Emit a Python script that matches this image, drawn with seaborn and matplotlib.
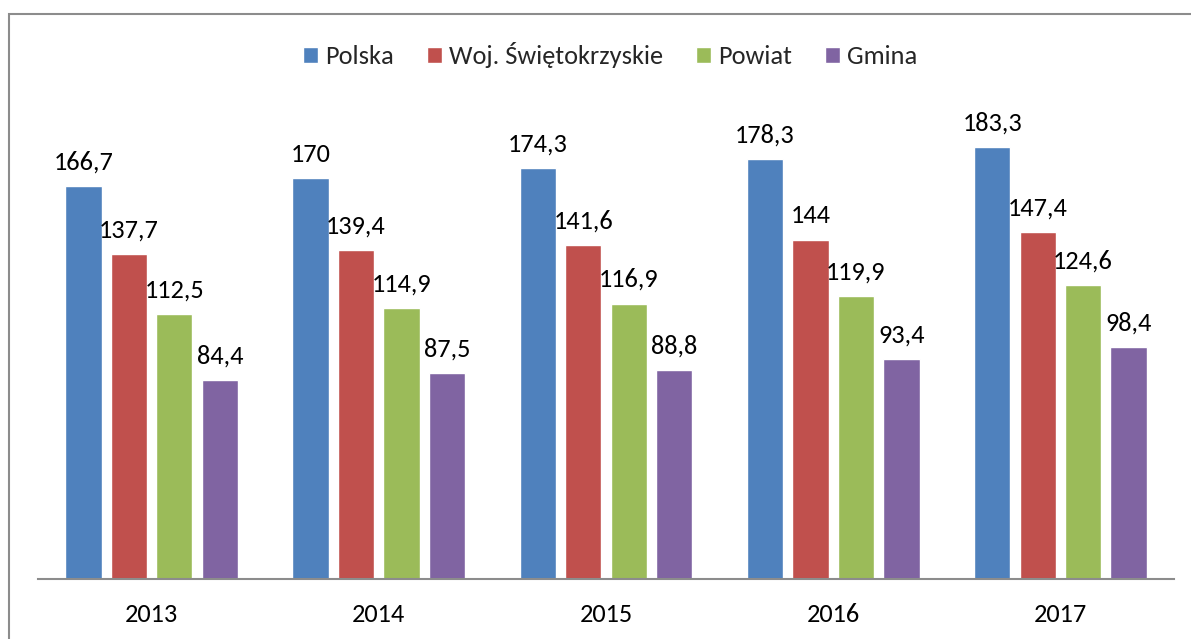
import matplotlib
matplotlib.use("Agg")
import matplotlib.pyplot as plt
import seaborn as sns
import pandas as pd
from matplotlib.patches import Rectangle

years = ["2013", "2014", "2015", "2016", "2017"]
series_names = ["Polska", "Woj. Świętokrzyskie", "Powiat", "Gmina"]
polska = [166.7, 170, 174.3, 178.3, 183.3]
swietokrzyskie = [137.7, 139.4, 141.6, 144, 147.4]
powiat = [112.5, 114.9, 116.9, 119.9, 124.6]
gmina = [84.4, 87.5, 88.8, 93.4, 98.4]
colors = ["#4F81BD", "#C0504D", "#9BBB59", "#8064A2"]

values = [polska, swietokrzyskie, powiat, gmina]
rows = []
for name, vals in zip(series_names, values):
    for y, v in zip(years, vals):
        rows.append({"Rok": y, "Seria": name, "Wartość": v})
df = pd.DataFrame(rows)

sns.set_theme(style="white")
plt.rcParams["font.family"] = ["Carlito", "Liberation Sans", "DejaVu Sans"]

FS = 19

fig = plt.figure(figsize=(11.91, 6.39), dpi=100)
ax = fig.add_axes([38 / 1191, 1 - 579 / 639, (1174 - 38) / 1191, 0.735])

sns.barplot(data=df, x="Rok", y="Wartość", hue="Seria", order=years,
            hue_order=series_names, palette=colors, width=0.8, gap=0.2,
            saturation=1, ax=ax, legend=True)

def fmt(v):
    s = f"{v:.1f}".replace(".", ",")
    if s.endswith(",0"):
        s = s[:-2]
    return s

for cont in ax.containers:
    ax.bar_label(cont, labels=[fmt(v) for v in cont.datavalues],
                 padding=9, fontsize=FS, color="black")

ax.set_ylim(0, 199.3)
ax.set_xlim(-0.5, 4.5)
ax.set_xlabel("")
ax.set_ylabel("")
ax.set_yticks([])
for s in ["top", "left", "right"]:
    ax.spines[s].set_visible(False)
ax.spines["bottom"].set_color("#8C8C8C")
ax.spines["bottom"].set_linewidth(1.5)
ax.tick_params(axis="x", length=0, pad=17, labelsize=FS, colors="black")

handles, labels = ax.get_legend_handles_labels()
ax.legend_.remove()
fig.legend(handles, labels, loc="center", bbox_to_anchor=(610 / 1191, 1 - 55 / 639),
           ncol=4, frameon=False, fontsize=FS, handlelength=0.57, handleheight=0.57,
           handletextpad=0.27, columnspacing=1.25)

fig.patches.append(Rectangle((8.5 / 1191, -0.05), 1.2, 1 - 14.3 / 639 + 0.05,
                             transform=fig.transFigure, fill=False,
                             edgecolor="#8C8C8C", linewidth=1.5))

fig.savefig("out.png", dpi=100, facecolor="white")
